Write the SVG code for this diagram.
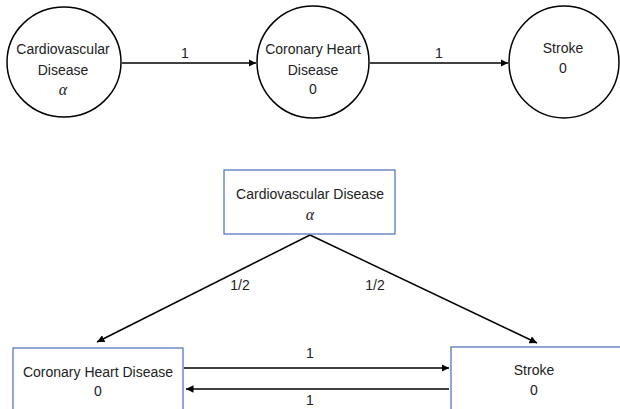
<svg xmlns="http://www.w3.org/2000/svg" width="620" height="409" viewBox="0 0 620 409">
<defs>
<style>
.t{font-family:"Liberation Sans",Arial,sans-serif;font-size:14px;fill:#222;text-anchor:middle}
.m{font-family:"Liberation Serif","DejaVu Serif",serif;font-style:italic;font-size:16px;fill:#222;text-anchor:middle}
.c{fill:#fff;stroke:#000;stroke-width:1.5}
.b{fill:#fff;stroke:#4a6fb5;stroke-width:1.2}
.e{stroke:#000;stroke-width:1.5;fill:none;marker-end:url(#ah)}
</style>
<marker id="ah" viewBox="0 0 10 10" refX="10" refY="5" markerWidth="5" markerHeight="5" orient="auto" markerUnits="strokeWidth">
<path d="M0,0 L10,5 L0,10 z" fill="#000"/>
</marker>
</defs>
<rect width="620" height="409" fill="#fff"/>
<g id="connectors">
<line class="e" x1="122" y1="63" x2="256" y2="63"/>
<text class="t" x="185" y="58">1</text>
<line class="e" x1="370" y1="63" x2="508" y2="63"/>
<text class="t" x="439" y="58">1</text>
<line class="e" x1="310" y1="235" x2="97" y2="342"/>
<text class="t" x="240" y="290">1/2</text>
<line class="e" x1="310" y1="235" x2="537" y2="343"/>
<text class="t" x="375" y="290">1/2</text>
<line class="e" x1="184" y1="368" x2="449" y2="368"/>
<text class="t" x="310" y="358">1</text>
<line class="e" x1="449" y1="389" x2="186" y2="389"/>
<text class="t" x="310" y="405">1</text>
</g>
<g id="n1">
<ellipse class="c" cx="64" cy="62" rx="57" ry="55"/>
<text class="t" x="63" y="54">Cardiovascular</text>
<text class="t" x="63" y="75">Disease</text>
<text class="m" x="63" y="95">α</text>
</g>
<g id="n2">
<ellipse class="c" cx="313" cy="62" rx="56" ry="56"/>
<text class="t" x="313" y="54">Coronary Heart</text>
<text class="t" x="313" y="75">Disease</text>
<text class="t" x="313" y="94">0</text>
</g>
<g id="n3">
<ellipse class="c" cx="564" cy="62" rx="55" ry="56"/>
<text class="t" x="563" y="53">Stroke</text>
<text class="t" x="563" y="73">0</text>
</g>
<g id="b1">
<rect class="b" x="224" y="170" width="171" height="64"/>
<text class="t" x="310" y="199">Cardiovascular Disease</text>
<text class="m" x="310" y="220">α</text>
</g>
<g id="b2">
<rect class="b" x="13" y="348" width="170" height="70"/>
<text class="t" x="98" y="377">Coronary Heart Disease</text>
<text class="t" x="98" y="396">0</text>
</g>
<g id="b3">
<rect class="b" x="451" y="347" width="180" height="70"/>
<text class="t" x="534" y="375">Stroke</text>
<text class="t" x="534" y="395">0</text>
</g>
</svg>
